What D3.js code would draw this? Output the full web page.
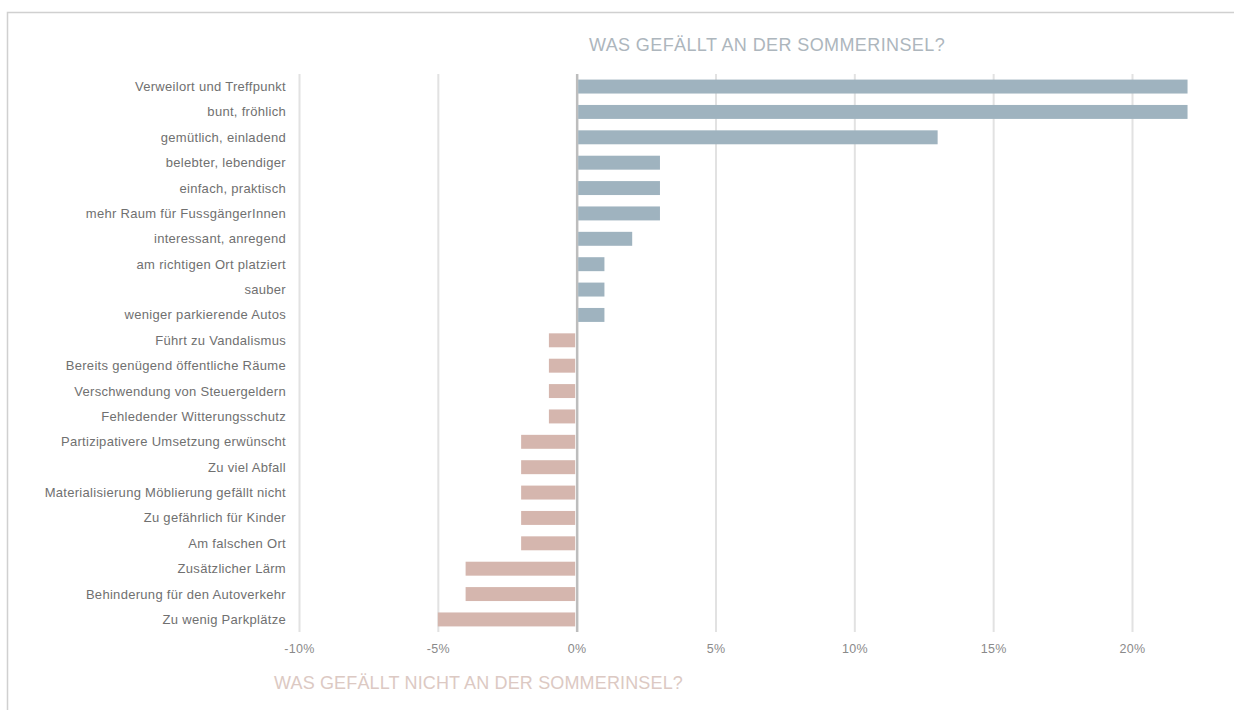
<!DOCTYPE html>
<html>
<head>
<meta charset="utf-8">
<script src="https://cdn.jsdelivr.net/npm/d3@7"></script>
<style>
  body { margin: 0; background: #fff; }
  svg { display: block; font-family: "Liberation Sans", Arial, sans-serif; }
  .tick text { fill: #8a8a8a; font-size: 12.5px; letter-spacing: 0.3px; }
  .cat-label { fill: #707070; font-size: 13px; letter-spacing: 0.3px; }
</style>
</head>
<body>
<svg id="chart"></svg>
<script>
// categories, top to bottom
const categories = [
  "Verweilort und Treffpunkt", "bunt, fröhlich", "gemütlich, einladend",
  "belebter, lebendiger", "einfach, praktisch", "mehr Raum für FussgängerInnen",
  "interessant, anregend", "am richtigen Ort platziert", "sauber",
  "weniger parkierende Autos ", "Führt zu Vandalismus",
  "Bereits genügend öffentliche Räume", "Verschwendung von Steuergeldern",
  "Fehledender Witterungsschutz", "Partizipativere Umsetzung erwünscht",
  "Zu viel Abfall", "Materialisierung Möblierung gefällt nicht",
  "Zu gefährlich für Kinder", "Am falschen Ort", "Zusätzlicher Lärm",
  "Behinderung für den Autoverkehr", "Zu wenig Parkplätze"
];
// share of answers (%)
const values = [22, 22, 13, 3, 3, 3, 2, 1, 1, 1, -1, -1, -1, -1, -2, -2, -2, -2, -2, -4, -4, -5];
const tickValues = [-10, -5, 0, 5, 10, 15, 20];

const titleTop = "WAS GEFÄLLT AN DER SOMMERINSEL?";
const titleBottom = "WAS GEFÄLLT NICHT AN DER SOMMERINSEL?";

const WIDTH = 1234, HEIGHT = 710;
const PLOT = {left: 299, right: 1132, top: 74, bottom: 632};

const data = categories.map((c, i) => ({cat: c, val: values[i]}));

const svg = d3.select("#chart").attr("width", WIDTH).attr("height", HEIGHT);

// frame
svg.append("path")
  .attr("d", `M7.5,${HEIGHT} V12.5 H${WIDTH}`)
  .attr("fill", "none")
  .attr("stroke", "#d0d0d0")
  .attr("stroke-width", 1.5);

const xScale = d3.scaleLinear().domain([-10, 20]).range([PLOT.left, PLOT.right]);
const yScale = d3.scaleBand().domain(categories).range([PLOT.top, PLOT.bottom]).paddingInner(0.45).paddingOuter(0.22);

// X axis with grid lines
const xAxis = svg.append("g")
  .attr("transform", `translate(0, ${PLOT.bottom})`)
  .call(d3.axisBottom(xScale)
    .tickValues(tickValues)
    .tickSize(-(PLOT.bottom - PLOT.top))
    .tickPadding(12)
    .tickFormat(d => (d < 0 ? "-" : "") + Math.abs(d) + "%"));
xAxis.select(".domain").remove();
xAxis.selectAll(".tick line")
  .attr("stroke", d => d === 0 ? "#bdbdbd" : "#e2e2e2")
  .attr("stroke-width", d => d === 0 ? 2.5 : 2);

// Bars
svg.selectAll(".bar")
  .data(data)
  .enter()
  .append("rect")
  .classed("bar", true)
  .attr("x", d => xScale(Math.min(0, d.val)) + (d.val > 0 ? 1.5 : 0))
  .attr("width", d => Math.abs(xScale(d.val) - xScale(0)) - 1.5)
  .attr("y", d => yScale(d.cat))
  .attr("height", yScale.bandwidth())
  .attr("fill", d => d.val > 0 ? "#9fb3bf" : "#d5b6ae");

// Category labels
svg.selectAll(".cat-label")
  .data(data)
  .enter()
  .append("text")
  .classed("cat-label", true)
  .attr("x", 286)
  .attr("y", d => yScale(d.cat) + yScale.bandwidth() / 2)
  .attr("dy", "0.35em")
  .attr("text-anchor", "end")
  .text(d => d.cat);

// Titles
svg.append("text")
  .attr("x", 767)
  .attr("y", 51)
  .attr("text-anchor", "middle")
  .attr("fill", "#adb6bd")
  .style("font-size", "18px")
  .style("letter-spacing", "0.4px")
  .text(titleTop);

svg.append("text")
  .attr("x", 274)
  .attr("y", 689)
  .attr("fill", "#dcc9c3")
  .style("font-size", "18px")
  .style("letter-spacing", "0.15px")
  .text(titleBottom);
</script>
</body>
</html>
